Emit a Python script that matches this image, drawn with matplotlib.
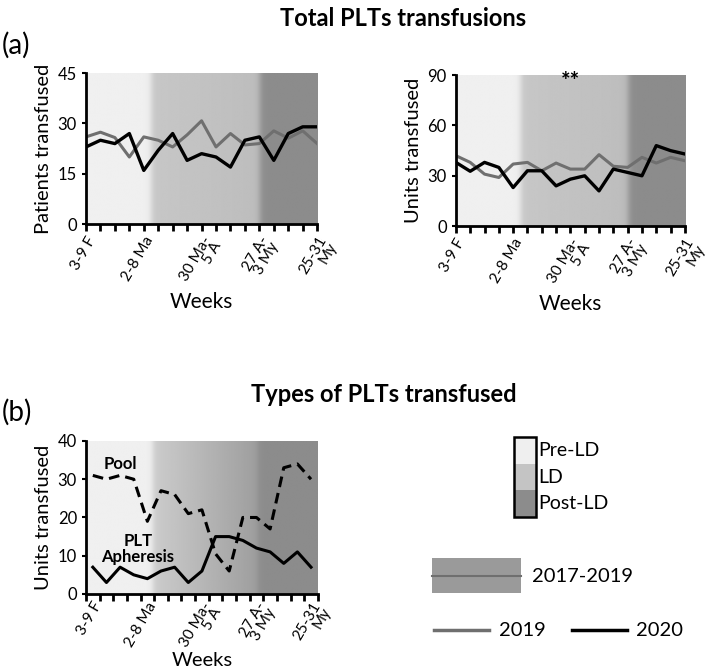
import numpy as np
import matplotlib
matplotlib.use("Agg")
import matplotlib.pyplot as plt
from matplotlib.patches import Rectangle
from matplotlib.lines import Line2D

plt.rcParams["font.family"] = ["Lato", "DejaVu Sans"]

# --- data -------------------------------------------------------------
weeks = list(range(17))
tick_pos = [0, 4, 8, 12, 16]
tick_labels = ["3-9 F", "2-8 Ma", "30 Ma-\n5 A", "27 A-\n3 My", "25-31\nMy"]

patients_2019 = [26, 27.4, 25.8, 20, 26, 25, 23, 26.6, 30.8, 23, 27, 23.6, 24, 27.8, 25.6, 27.8, 24]
patients_2020 = [23, 25, 24, 27, 16, 22, 27, 19, 21, 20, 17, 25, 26, 19, 27, 29, 29]

units_2019 = [42, 38, 31, 29, 37, 38, 33, 37.6, 34, 34, 42.6, 35.7, 35, 41, 37.6, 41, 39]
units_2020 = [38, 32.7, 38, 35, 23, 33, 33, 24, 28, 30, 21, 34, 32, 30, 48, 45, 43]

pool_units = [31, 30, 31, 30, 19, 27, 26, 21, 22, 10.5, 6, 20, 20, 17, 33, 34, 30]
apheresis_units = [7, 3, 7, 5, 4, 6, 7, 3, 6, 15, 15, 14, 12, 11, 8, 11, 7]

# lockdown phases (week index where each phase starts)
ld_start_top, post_start_top = 4.5, 12.0
ld_start_bot, post_start_bot = 4.4, 12.1

GRAY19 = "#6f6f6f"


def shade(ax, x0, x1, ld_start, post_start, ld_fade):
    xs = np.linspace(x0, x1, 600)
    pre, post = 0.94, 0.55
    ld_a, ld_b = ld_fade
    t = np.clip((xs - ld_start) / (post_start - ld_start), 0, 1)
    ld = ld_a + (ld_b - ld_a) * t
    w1 = 1 / (1 + np.exp(-(xs - ld_start) / 0.12))
    w2 = 1 / (1 + np.exp(-(xs - post_start) / 0.12))
    vals = pre * (1 - w1) + ld * w1 * (1 - w2) + post * w2
    img = np.repeat(vals[None, :], 2, axis=0)
    ylo, yhi = ax.get_ylim()
    ax.imshow(img, cmap="gray", vmin=0, vmax=1, aspect="auto",
              extent=(x0, x1, ylo, yhi), zorder=0, interpolation="bilinear")


def style(ax, ylim, yticks, ylabel):
    ax.set_ylim(*ylim)
    ax.set_yticks(yticks)
    ax.set_ylabel(ylabel, fontsize=14.5, labelpad=4)
    for s in ["top", "right"]:
        ax.spines[s].set_visible(False)
    for s in ["left", "bottom"]:
        ax.spines[s].set_linewidth(2)
    ax.tick_params(axis="y", labelsize=12, width=1.5, length=3)
    ax.set_xlabel("Weeks", fontsize=15, labelpad=2)
    ax.xaxis.remove_overlapping_locs = False


def week_labels(ax, pad=7):
    ax.set_xticks(tick_pos, minor=True)
    ax.set_xticklabels(tick_labels, minor=True, rotation=60, ha="right",
                       va="top", rotation_mode="anchor", fontsize=11,
                       linespacing=0.8)
    ax.tick_params(axis="x", which="major", width=2, length=5)
    ax.tick_params(axis="x", which="minor", length=0, pad=pad)


fig = plt.figure(figsize=(7.09, 6.71), dpi=100)

# --- (a) top panels ----------------------------------------------------
ax1 = fig.add_axes([0.1213, 0.666, 0.326, 0.225])
ax2 = fig.add_axes([0.643, 0.663, 0.323, 0.225])

for ax, s19, s20, ylim, yt, lab in [
    (ax1, patients_2019, patients_2020, (0, 45), [0, 15, 30, 45], "Patients transfused"),
    (ax2, units_2019, units_2020, (0, 90), [0, 30, 60, 90], "Units transfused"),
]:
    style(ax, ylim, yt, lab)
    ax.set_xlim(0, 16)
    shade(ax, 0, 16, ld_start_top, post_start_top, (0.78, 0.74))
    ax.plot(weeks, s19, color=GRAY19, lw=2.2, zorder=2)
    ax.plot(weeks, s20, color="black", lw=2.4, zorder=3)
    ax.set_xticks(weeks)
    ax.set_xticklabels([])
    week_labels(ax)
    ax.set_xlim(0, 16)
    ax.set_ylim(*ylim)

ax2.text(8, 86, "**", ha="center", va="center", fontsize=16, fontweight="bold")

# --- (b) bottom panel --------------------------------------------------
ax3 = fig.add_axes([0.1213, 0.1148, 0.327, 0.228])
style(ax3, (0, 40), [0, 10, 20, 30, 40], "Units transfused")
ax3.set_xlim(-0.5, 16.5)
shade(ax3, -0.5, 16.5, ld_start_bot, post_start_bot, (0.80, 0.62))
ax3.plot(weeks, pool_units, color="black", lw=2.2, ls=(0, (3.5, 2)), zorder=3)
ax3.plot(weeks, apheresis_units, color="black", lw=2.2, zorder=3)
ax3.set_xticks(np.arange(-0.5, 17, 1))
ax3.set_xticklabels([])
week_labels(ax3, pad=4)
ax3.set_xlim(-0.5, 16.5)
ax3.set_ylim(0, 40)
ax3.xaxis.set_label_coords(0.5, -0.435)
ax3.xaxis.label.set_va("center")
ax3.xaxis.label.set_fontsize(14.5)
ax3.text(2, 34, "Pool", ha="center", va="center", fontsize=12, fontweight="bold")
ax3.text(3.3, 11.8, "PLT\nApheresis", ha="center", va="center", fontsize=12,
         fontweight="bold", linespacing=1.0)

# --- titles ------------------------------------------------------------
fig.text(0.568, 0.972, "Total PLTs transfusions", ha="center", va="center",
         fontsize=17, fontweight="bold")
fig.text(0.003, 0.932, "(a)", ha="left", va="center", fontsize=20)
fig.text(0.542, 0.412, "Types of PLTs transfused", ha="center", va="center",
         fontsize=17, fontweight="bold")
fig.text(0.003, 0.385, "(b)", ha="left", va="center", fontsize=20)

# --- legend ------------------------------------------------------------
W, H = 709.0, 671.0


def fx(px):
    return px / W


def fy(py):
    return 1 - py / H


phase_names = ["Pre-LD", "LD", "Post-LD"]
phase_colors = ["#efefef", "#c4c4c4", "#8c8c8c"]
bx0, bx1, by0 = 514, 536, 437
seg = 26.7
for i, (name, col) in enumerate(zip(phase_names, phase_colors)):
    top = by0 + i * seg
    fig.patches.append(Rectangle((fx(bx0), fy(top + seg)), fx(bx1) - fx(bx0),
                                 fy(top) - fy(top + seg), transform=fig.transFigure,
                                 facecolor=col, edgecolor="none"))
    fig.text(fx(538), fy(top + seg / 2), name, ha="left", va="center", fontsize=14)
fig.patches.append(Rectangle((fx(bx0), fy(by0 + 3 * seg)), fx(bx1) - fx(bx0),
                             fy(by0) - fy(by0 + 3 * seg), transform=fig.transFigure,
                             facecolor="none", edgecolor="black", lw=1.8))

fig.patches.append(Rectangle((fx(432), fy(593)), fx(521) - fx(432), fy(558) - fy(593),
                             transform=fig.transFigure, facecolor="#9a9a9a",
                             edgecolor="none"))
fig.lines.append(Line2D([fx(432), fx(521)], [fy(575.5), fy(575.5)],
                        transform=fig.transFigure, color=GRAY19, lw=1.5))
fig.text(fx(532), fy(576), "2017-2019", ha="left", va="center", fontsize=14.5)

fig.lines.append(Line2D([fx(434), fx(489)], [fy(630), fy(630)],
                        transform=fig.transFigure, color=GRAY19, lw=2.5))
fig.text(fx(499), fy(630), "2019", ha="left", va="center", fontsize=14.5)
fig.lines.append(Line2D([fx(572), fx(627)], [fy(630), fy(630)],
                        transform=fig.transFigure, color="black", lw=2.5))
fig.text(fx(636), fy(630), "2020", ha="left", va="center", fontsize=14.5)

fig.savefig("out.png", dpi=100)
